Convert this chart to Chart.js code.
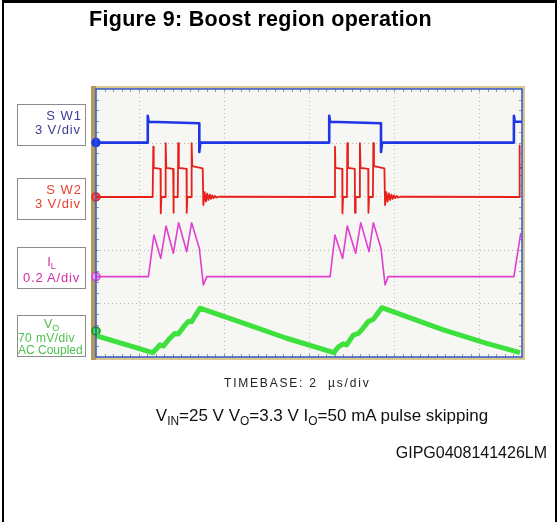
<!DOCTYPE html>
<html>
<head>
<meta charset="utf-8">
<script src="https://cdn.jsdelivr.net/npm/chart.js@4"></script>
<style>
  body { margin: 0; background: #fff; }
  #page { position: relative; width: 559px; height: 522px; overflow: hidden; font-family: "Liberation Sans", Arial, sans-serif; }
  #frame { position: absolute; left: 2px; top: 0; width: 555px; height: 600px; border: 2px solid #000; border-top-width: 3px; box-sizing: border-box; }
  .t { position: absolute; white-space: pre; line-height: 1; }
  .box { position: absolute; left: 17px; width: 69px; border: 1.5px solid #8c8c8c; box-sizing: border-box; background: #fff; }
  sub { font-size: 0.7em; vertical-align: -0.3em; line-height: 0; }
  canvas { position: absolute; left: 0; top: 0; }
</style>
</head>
<body>
<div id="page">
  <canvas id="scope" width="559" height="522"></canvas>
  <div id="frame"></div>

  <div class="t" style="left:89px; top:9px; font-size:21.5px; font-weight:bold; letter-spacing:0.3px;">Figure 9: Boost region operation</div>

  <div class="box" style="top:104px; height:42px;"></div>
  <div class="t" style="left:17px; width:65px; text-align:right; top:108.5px; font-size:13px; letter-spacing:1px; color:#3c3c92;">S W1</div>
  <div class="t" style="left:17px; width:64px; text-align:right; top:122.8px; font-size:13px; letter-spacing:0.9px; color:#3c3c92;">3 V/div</div>

  <div class="box" style="top:178px; height:42px;"></div>
  <div class="t" style="left:17px; width:65px; text-align:right; top:183px; font-size:13px; letter-spacing:1px; color:#e8402e;">S W2</div>
  <div class="t" style="left:17px; width:64px; text-align:right; top:197px; font-size:13px; letter-spacing:0.9px; color:#e8402e;">3 V/div</div>

  <div class="box" style="top:247px; height:42px;"></div>
  <div class="t" style="left:17px; width:69px; text-align:center; top:255px; font-size:13px; color:#d22ea6;">I<sub>L</sub></div>
  <div class="t" style="left:17px; width:69px; text-align:center; top:271px; font-size:13px; letter-spacing:0.8px; color:#d22ea6;">0.2 A/div</div>

  <div class="box" style="top:315px; height:42px;"></div>
  <div class="t" style="left:17px; width:69px; text-align:center; top:316.5px; font-size:13px; color:#4cc04c;">V<sub>O</sub></div>
  <div class="t" style="left:18px; top:331.5px; font-size:12px; letter-spacing:0.4px; color:#4cc04c;">70 mV/div</div>
  <div class="t" style="left:18px; top:343.5px; font-size:12px; color:#4cc04c;">AC Coupled</div>

  <div class="t" style="left:224px; top:376.8px; font-size:12px; letter-spacing:1.8px; color:#222;">TIMEBASE: 2  µs/div</div>
  <div class="t" style="left:122px; width:400px; text-align:center; top:406.5px; font-size:17px; color:#111;">V<sub>IN</sub>=25 V V<sub>O</sub>=3.3 V I<sub>O</sub>=50 mA pulse skipping</div>
  <div class="t" style="left:300px; width:247px; text-align:right; top:445px; font-size:16px; color:#111;">GIPG0408141426LM</div>
</div>

<script>
// time axis in microseconds (10 div x 2 us), vertical axis in screen units (0 = bottom, 10 = top)
const gridTimes = [2, 6, 10, 14, 18];
const gridLevels = [2, 4, 6, 8];

// SW1 (blue)
const sw1Time  = [0, 2.43, 2.43, 2.47, 4.85, 4.85, 4.90, 10.95, 10.95, 10.99, 13.38, 13.38, 13.43, 19.62, 19.62, 19.66, 20];
const sw1Level = [8.0, 8.0, 9.0, 8.78, 8.72, 7.65, 8.0, 8.0, 9.0, 8.78, 8.72, 7.65, 8.0, 8.0, 9.0, 8.78, 8.78];

// SW2 (red)
const sw2Time = [
  0, 2.66, 2.69, 2.71, 3.03, 3.04, 3.07, 3.25, 3.27, 3.30, 3.62, 3.63, 3.66, 3.84, 3.86, 3.89, 4.25, 4.26, 4.29,
  4.47, 4.49, 4.52, 5.01, 5.04, 5.10, 5.16, 5.22, 5.28, 5.34, 5.40, 5.46, 5.52, 5.58, 5.64, 5.75,
  11.19, 11.22, 11.24, 11.56, 11.57, 11.60, 11.78, 11.80, 11.83, 12.15, 12.16, 12.19, 12.37, 12.39, 12.42, 12.78, 12.79, 12.82,
  13.00, 13.02, 13.05, 13.54, 13.57, 13.63, 13.69, 13.75, 13.81, 13.87, 13.93, 13.99, 14.05, 14.11, 14.17, 14.28,
  19.86, 19.88, 19.90, 20
];
const sw2Level = [
  5.97, 5.97, 7.85, 7.06, 7.02, 5.36, 5.97, 5.97, 7.98, 7.06, 7.02, 5.38, 5.97, 5.97, 7.98, 7.06, 7.02, 5.38, 5.97,
  5.97, 7.98, 7.12, 7.04, 5.67, 6.15, 5.80, 6.10, 5.86, 6.06, 5.90, 6.03, 5.93, 6.01, 5.95, 5.98,
  5.97, 7.85, 7.06, 7.02, 5.36, 5.97, 5.97, 7.98, 7.06, 7.02, 5.38, 5.97, 5.97, 7.98, 7.06, 7.02, 5.38, 5.97,
  5.97, 7.98, 7.12, 7.04, 5.67, 6.15, 5.80, 6.10, 5.86, 6.06, 5.90, 6.03, 5.93, 6.01, 5.95, 5.98,
  5.97, 7.9, 7.06, 7.06
];

// IL (magenta)
const ilTime  = [0, 2.46, 2.72, 3.04, 3.29, 3.63, 3.88, 4.26, 4.49, 4.85, 5.04, 5.20, 10.99, 11.22, 11.58, 11.80, 12.19, 12.43, 12.82, 13.02, 13.38, 13.57, 13.72, 19.62, 19.94];
const ilLevel = [3.0, 3.0, 4.55, 3.68, 4.89, 3.87, 5.01, 3.93, 5.01, 4.06, 2.69, 3.0, 3.0, 4.55, 3.68, 4.89, 3.87, 5.01, 3.93, 5.01, 4.06, 2.69, 3.0, 3.0, 4.62];

// VO (green)
const voTime  = [0, 2.66, 2.85, 3.00, 3.16, 3.47, 3.71, 3.86, 4.18, 4.33, 4.49, 4.88, 6.92, 8.95, 11.17, 11.38, 11.61, 11.77, 12.08, 12.32, 12.47, 12.78, 13.02, 13.42, 16.31, 18.34, 19.91];
const voLevel = [0.80, 0.16, 0.32, 0.45, 0.41, 0.70, 0.88, 0.86, 1.19, 1.32, 1.32, 1.82, 1.26, 0.70, 0.16, 0.38, 0.49, 0.45, 0.82, 0.88, 1.01, 1.32, 1.41, 1.84, 1.01, 0.51, 0.16];

// channel ground markers on the left edge
const markerLevels = [8.0, 5.97, 3.0, 0.97];
const markerFill   = ['#1f36e6', '#f05a4a', '#f2a0ea', '#3ee03e'];
const markerEdge   = ['#1f36e6', '#e8201c', '#e040d0', '#1e8a1e'];

function pts(ts, vs) {
  return ts.map((t, i) => ({ x: t, y: vs[i] }));
}

const scopeFrame = {
  id: 'scopeFrame',
  beforeDatasetsDraw(chart) {
    const { ctx, chartArea: a, scales: { x, y } } = chart;
    ctx.save();
    ctx.fillStyle = '#d8c890';
    ctx.fillRect(a.left - 5, a.top - 3, a.width + 8, a.height + 6);
    ctx.fillStyle = '#b09a5e';
    ctx.fillRect(a.left - 5, a.top - 3, 5, a.height + 6);
    ctx.fillStyle = '#f6f6f3';
    ctx.fillRect(a.left, a.top, a.width, a.height);

    ctx.strokeStyle = '#b8b8b8';
    ctx.lineWidth = 1;
    ctx.setLineDash([1, 3]);
    gridTimes.forEach(t => {
      const px = Math.round(x.getPixelForValue(t)) + 0.5;
      ctx.beginPath(); ctx.moveTo(px, a.top); ctx.lineTo(px, a.bottom); ctx.stroke();
    });
    gridLevels.forEach(v => {
      const py = Math.round(y.getPixelForValue(v)) + 0.5;
      ctx.beginPath(); ctx.moveTo(a.left, py); ctx.lineTo(a.right, py); ctx.stroke();
    });
    ctx.setLineDash([]);

    // small ticks along the screen edges
    ctx.strokeStyle = '#9a9a9a';
    for (let t = 0.4; t < 20; t += 0.4) {
      const px = Math.round(x.getPixelForValue(t)) + 0.5;
      ctx.beginPath(); ctx.moveTo(px, a.top); ctx.lineTo(px, a.top + 3); ctx.stroke();
      ctx.beginPath(); ctx.moveTo(px, a.bottom); ctx.lineTo(px, a.bottom - 3); ctx.stroke();
    }
    for (let v = 0.4; v < 10; v += 0.4) {
      const py = Math.round(y.getPixelForValue(v)) + 0.5;
      ctx.beginPath(); ctx.moveTo(a.left, py); ctx.lineTo(a.left + 3, py); ctx.stroke();
      ctx.beginPath(); ctx.moveTo(a.right, py); ctx.lineTo(a.right - 3, py); ctx.stroke();
    }
    ctx.restore();
  },
  afterDatasetsDraw(chart) {
    const { ctx, chartArea: a } = chart;
    ctx.save();
    ctx.strokeStyle = '#3558cc';
    ctx.lineWidth = 1.5;
    ctx.strokeRect(a.left, a.top, a.width, a.height);
    ctx.restore();
  }
};

const ctx = document.getElementById('scope').getContext('2d');

const scopeChart = new Chart(ctx, {
  type: 'line',
  data: {
    datasets: [
      { label: 'SW1', data: pts(sw1Time, sw1Level), borderColor: '#1f36e6', borderWidth: 2.6 },
      { label: 'SW2', data: pts(sw2Time, sw2Level), borderColor: '#e8201c', borderWidth: 1.8 },
      { label: 'IL', data: pts(ilTime, ilLevel), borderColor: '#e040d0', borderWidth: 1.6 },
      { label: 'VO', data: pts(voTime, voLevel), borderColor: '#3ee03e', borderWidth: 5 },
      {
        label: 'markers',
        type: 'scatter',
        data: markerLevels.map(v => ({ x: 0, y: v })),
        pointRadius: 4,
        pointBorderWidth: 1.5,
        pointBackgroundColor: markerFill,
        pointBorderColor: markerEdge,
        clip: false
      }
    ]
  },
  options: {
    responsive: false,
    animation: false,
    layout: { padding: { left: 96, top: 89, right: 37, bottom: 165 } },
    elements: { point: { radius: 0 }, line: { tension: 0, borderJoinStyle: 'round' } },
    scales: {
      x: { type: 'linear', min: 0, max: 20, display: false },
      y: { min: 0, max: 10, display: false }
    },
    plugins: { legend: { display: false }, tooltip: { enabled: false } }
  },
  plugins: [scopeFrame]
});
</script>
</body>
</html>
